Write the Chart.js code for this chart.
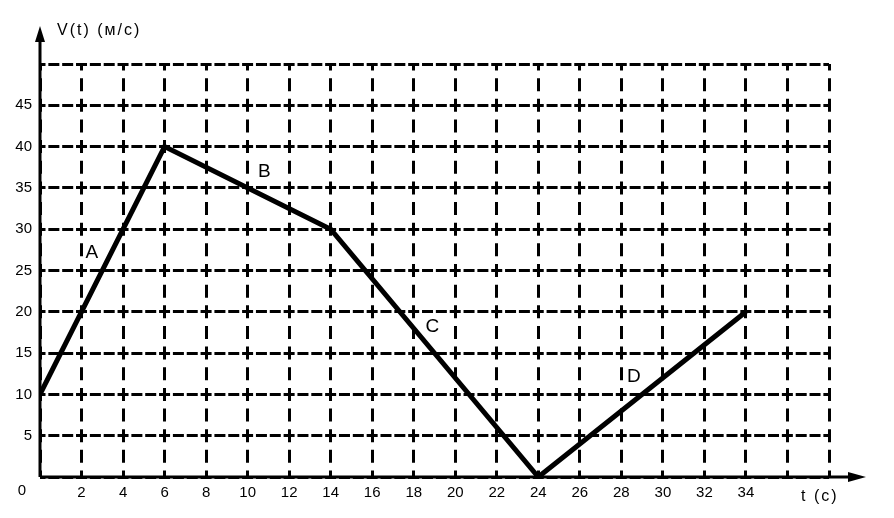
<!DOCTYPE html>
<html>
<head>
<meta charset="utf-8">
<script src="https://cdn.jsdelivr.net/npm/chart.js@4/dist/chart.umd.min.js"></script>
<style>
  html, body { margin: 0; padding: 0; background: #fff; }
  #wrap { width: 894px; height: 518px; }
</style>
</head>
<body>
<div id="wrap"><canvas id="graficoV"></canvas></div>
<script>
// ---- dados do gráfico V(t)
const tempos = [0, 6, 14, 24, 34];
const velocidades = [10, 40, 30, 0, 20];
const rotulos = ['A', 'B', 'C', 'D'];
const rotulosX = [2.5, 10.8, 18.9, 28.6];
const rotulosY = [27.2, 37, 18.2, 12.1];
const xMax = 38, yMax = 50;
const xSemRotulo = [0, 36, 38];
const ySemRotulo = [0, 50];

const fonte = 'Arial, "Liberation Sans", sans-serif';

// eixos com setas, letras dos trechos e títulos
const plugEixos = {
    id: 'eixos',
    afterDatasetsDraw(chart) {
        const { ctx, scales: { x, y } } = chart;
        const x0 = x.getPixelForValue(0), y0 = y.getPixelForValue(0);
        ctx.save();
        ctx.strokeStyle = '#000';
        ctx.fillStyle = '#000';
        ctx.lineWidth = 3;
        ctx.beginPath();
        ctx.moveTo(x0, y0);
        ctx.lineTo(x0, 34);
        ctx.moveTo(x0, y0);
        ctx.lineTo(852, y0);
        ctx.stroke();
        // setas
        ctx.beginPath();
        ctx.moveTo(x0, 26); ctx.lineTo(x0 - 5, 42); ctx.lineTo(x0 + 5, 42); ctx.closePath();
        ctx.fill();
        ctx.beginPath();
        ctx.moveTo(866, y0); ctx.lineTo(848, y0 - 5); ctx.lineTo(848, y0 + 5); ctx.closePath();
        ctx.fill();

        // letras
        ctx.font = '19px ' + fonte;
        ctx.textAlign = 'center';
        ctx.textBaseline = 'middle';
        rotulos.forEach((r, i) => {
            ctx.fillText(r, x.getPixelForValue(rotulosX[i]), y.getPixelForValue(rotulosY[i]));
        });

        // títulos e zero
        ctx.font = '16px ' + fonte;
        ctx.letterSpacing = '2px';
        ctx.textAlign = 'left';
        ctx.fillText('V(t) (м/с)', 57, 31);
        ctx.fillText('t (с)', 801, 497);
        ctx.letterSpacing = '0px';
        ctx.font = '15px ' + fonte;
        ctx.textAlign = 'center';
        ctx.fillText('0', 22, 491);
        ctx.restore();
    }
};

const ctx = document.getElementById('graficoV').getContext('2d');
let graficoV = new Chart(ctx, {
    type: 'line',
    data: {
        datasets: [{
            data: tempos.map((t, i) => ({ x: t, y: velocidades[i] })),
            borderColor: '#000',
            borderWidth: 5,
            pointRadius: 0,
            tension: 0,
            borderJoinStyle: 'miter'
        }]
    },
    options: {
        responsive: true,
        maintainAspectRatio: false,
        animation: false,
        layout: { padding: { top: 64, right: 65, left: 0, bottom: 0 } },
        plugins: { legend: { display: false }, tooltip: { enabled: false } },
        scales: {
            x: {
                type: 'linear',
                min: 0,
                max: xMax,
                afterFit: s => { s.height = 41; },
                ticks: {
                    stepSize: 2,
                    color: '#000',
                    font: { size: 15, family: fonte },
                    padding: 7,
                    maxRotation: 0,
                    autoSkip: false,
                    callback: v => xSemRotulo.includes(v) ? '' : v
                },
                grid: { color: '#000', lineWidth: 3, drawTicks: false },
                border: { display: false, dash: [13, 7.65], dashOffset: 6.5 }
            },
            y: {
                min: 0,
                max: yMax,
                afterFit: s => { s.width = 40; },
                ticks: {
                    stepSize: 5,
                    color: '#000',
                    font: { size: 15, family: fonte },
                    padding: 8,
                    callback: v => ySemRotulo.includes(v) ? '' : v
                },
                grid: { color: '#000', lineWidth: 3, drawTicks: false },
                border: { display: false, dash: [11, 2.84], dashOffset: 5.5 }
            }
        }
    },
    plugins: [plugEixos]
});
</script>
</body>
</html>
